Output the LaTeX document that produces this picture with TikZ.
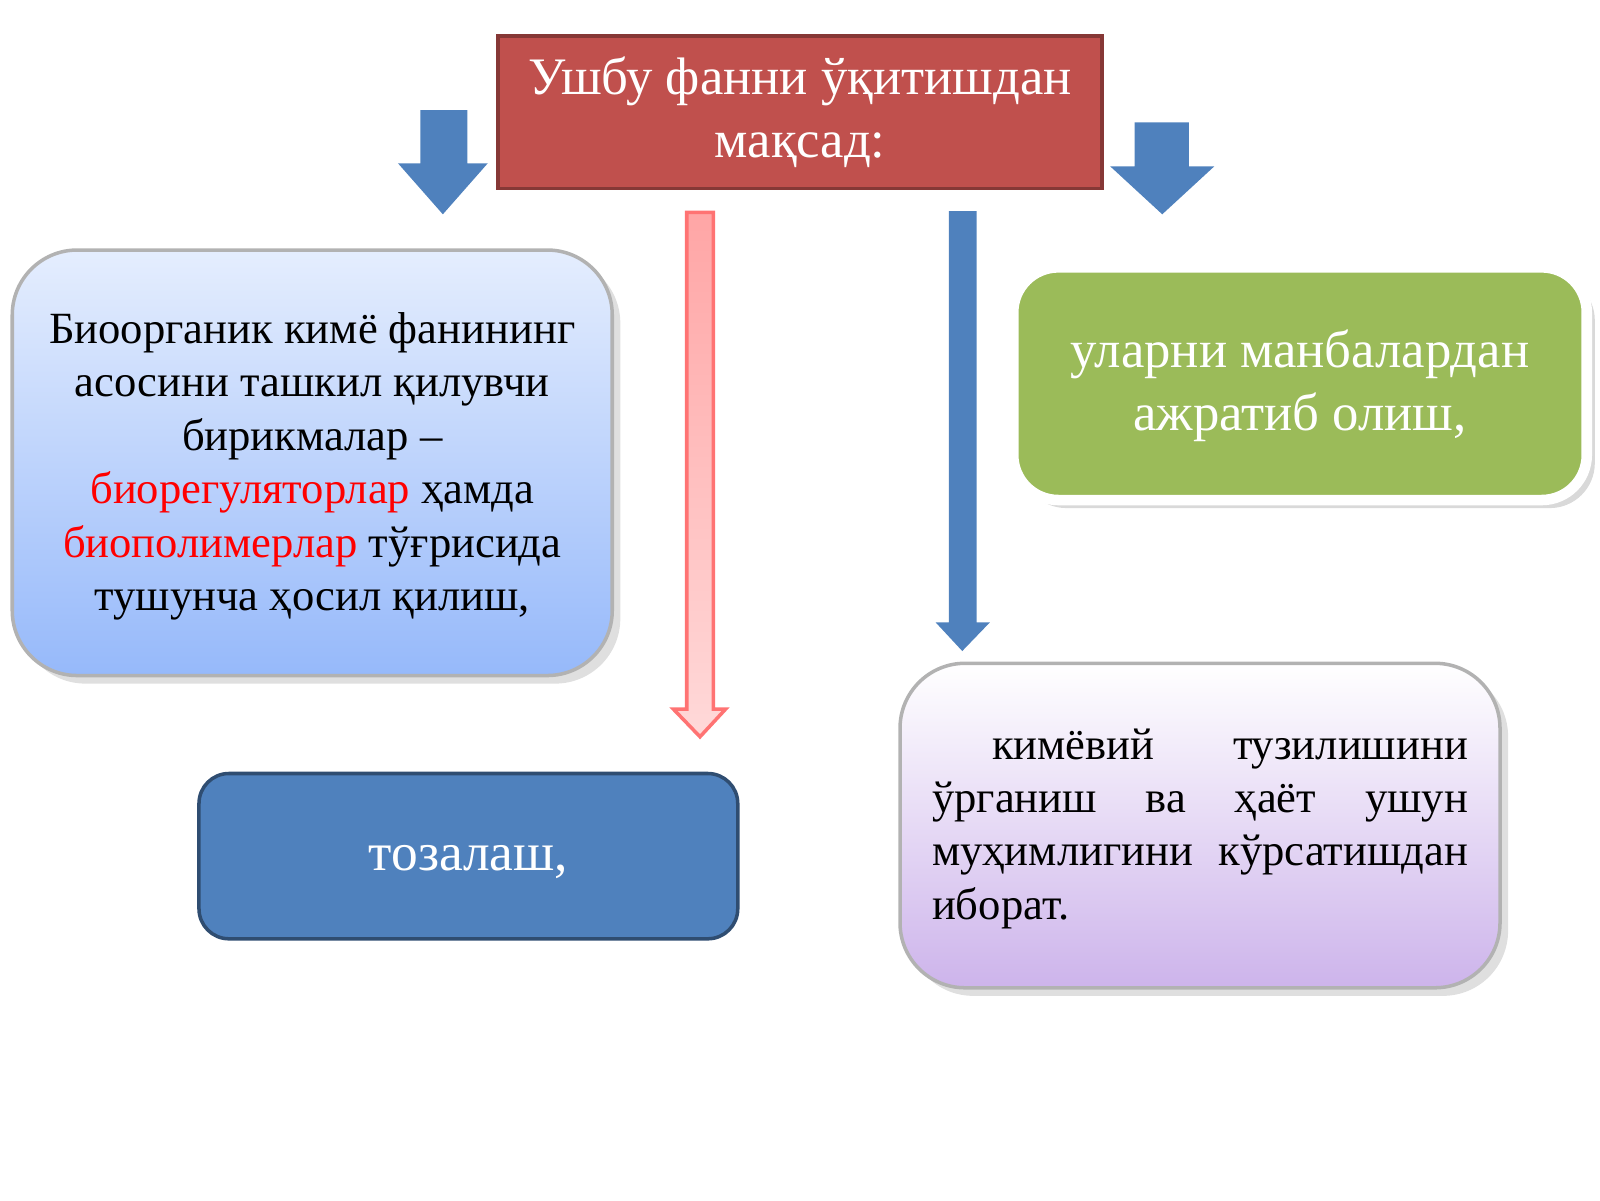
\documentclass[tikz,border=0pt]{standalone}
\usepackage{fontspec}
\setmainfont{Liberation Serif}
\usetikzlibrary{shadows}
\definecolor{tred}{RGB}{192,80,77}
\definecolor{tblue}{RGB}{79,129,189}
\definecolor{tgreen}{RGB}{155,187,89}
\definecolor{lblue}{RGB}{150,185,250}
\definecolor{lav}{RGB}{205,180,235}
\begin{document}
\begin{tikzpicture}[x=0.010204cm,y=-0.010204cm,
  box/.style={rounded corners=0.65cm,drop shadow={opacity=0.25}},
  txt/.style={align=center,font=\fontsize{12.7}{15.2}\selectfont}]
\useasboundingbox (0,0) rectangle (1568,1176);
% top box
\node[draw=tred!70!black,line width=1pt,fill=tred,minimum width=6.04cm,minimum height=1.53cm,
  text=white,align=center,font=\fontsize{15}{18}\selectfont] (top) at (784,110)
  {Ушбу фанни ўқитишдан\\ мақсад:};
% short arrows
\fill[tblue] (412,108) -- (458,108) -- (458,160) -- (478,160) -- (434,210) -- (390,160) -- (412,160) -- cycle;
\fill[tblue] (1112,120) -- (1165,120) -- (1165,163) -- (1190,163) -- (1139,210) -- (1088,163) -- (1112,163) -- cycle;
% pink long arrow
\shade[top color=red!35,bottom color=red!15,draw=red!55,line width=1pt]
  (673,208) -- (699,208) -- (699,695) -- (711,695) -- (686,722) -- (660,695) -- (673,695) -- cycle;
% blue long arrow
\fill[tblue] (930,207) -- (957,207) -- (957,610) -- (970,610) -- (943,638) -- (917,610) -- (930,610) -- cycle;
% left box
\shade[box,top color=lblue!25,bottom color=lblue,draw=gray!60,line width=1pt]
  (12,245) rectangle (600,662);
\node[txt] (left) at (306,457) {Биоорганик кимё фанининг\\ асосини ташкил қилувчи\\ бирикмалар –\\
  \textcolor{red}{биорегуляторлар} ҳамда\\ \textcolor{red}{биополимерлар} тўғрисида\\ тушунча ҳосил қилиш,};
% green box
\fill[rounded corners=0.45cm,drop shadow={opacity=0.3},fill=tgreen,draw=white,line width=3pt] (993,262) rectangle (1555,490);
\node[txt,text=white,font=\fontsize{15}{18}\selectfont] (green) at (1274,378) {уларни манбалардан\\ ажратиб олиш,};
% tozalash box
\fill[rounded corners=0.3cm,fill=tblue,draw=tblue!60!black,line width=1pt] (195,758) rectangle (723,920);
\node[txt,text=white,font=\fontsize{15.2}{18}\selectfont] (toz) at (459,845) {тозалаш,};
% purple box
\shade[box,top color=white,bottom color=lav,draw=gray!60,line width=1pt]
  (882,650) rectangle (1470,968);
\node[txt,align=justify,text width=5.36cm,inner sep=0pt] (pur) at (1176,812)
  {\hspace*{0.6cm}кимёвий тузилишини ўрганиш ва ҳаёт ушун муҳимлигини кўрсатишдан иборат.};
\end{tikzpicture}
\end{document}
